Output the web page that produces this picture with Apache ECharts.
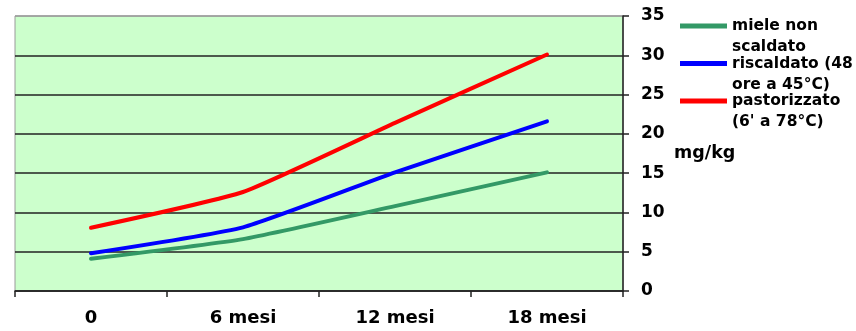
<!DOCTYPE html>
<html>
<head>
<meta charset="utf-8">
<script src="https://cdn.jsdelivr.net/npm/echarts@6/dist/echarts.min.js"></script>
<style>
  html, body { margin: 0; padding: 0; background: #fff; }
  #chart { width: 856px; height: 331px; }
</style>
</head>
<body>
<div id="chart"></div>
<script>
// Storage time categories
const categories = ['0', '6 mesi', '12 mesi', '18 mesi'];

// Series names (legend labels)
const seriesNames = [
  'miele non\nscaldato',
  'riscaldato (48\nore a 45°C)',
  'pastorizzato\n(6\' a 78°C)'
];

// Values in mg/kg
const nonScaldato = [4.1, 6.6, 10.8, 15.1];
const riscaldato = [4.8, 8.1, 15.1, 21.6];
const pastorizzato = [8.05, 12.6, 21.4, 30.1];

const seriesColors = ['#339966', '#0000FF', '#FF0000'];
const seriesValues = [nonScaldato, riscaldato, pastorizzato];

const font = '"DejaVu Sans", "Liberation Sans", Arial, sans-serif';

const chart = echarts.init(document.getElementById('chart'), null, { renderer: 'canvas' });

chart.setOption({
  animation: false,
  backgroundColor: '#ffffff',
  grid: {
    left: 15, top: 16, right: 233, bottom: 40,
    show: true,
    backgroundColor: '#CCFFCC',
    borderColor: '#9a9a9a',
    borderWidth: 1
  },
  legend: {
    orient: 'vertical',
    left: 675,
    top: -10.5,
    itemWidth: 47,
    itemHeight: 5,
    itemGap: -25.5,
    icon: 'rect',
    // leading blank line keeps the swatch level with the first text line
    formatter: name => '\n' + name,
    textStyle: {
      fontFamily: font,
      fontWeight: 'bold',
      fontSize: 15.5,
      lineHeight: 21,
      color: '#000'
    },
    data: seriesNames
  },
  xAxis: {
    type: 'category',
    data: categories,
    boundaryGap: true,
    axisLine: { show: true, lineStyle: { color: '#222', width: 1.5 } },
    axisTick: { show: true, length: 6, lineStyle: { color: '#222', width: 1.5 } },
    axisLabel: {
      margin: 18,
      fontFamily: font,
      fontWeight: 'bold',
      fontSize: 18,
      color: '#000'
    },
    splitLine: { show: false }
  },
  yAxis: {
    type: 'value',
    position: 'right',
    min: 0,
    max: 35,
    interval: 5,
    name: 'mg/kg',
    nameLocation: 'middle',
    nameRotate: 0,
    nameGap: 51,
    nameTextStyle: {
      fontFamily: font,
      fontWeight: 'bold',
      fontSize: 17.5,
      color: '#000',
      align: 'left'
    },
    axisLine: { show: true, lineStyle: { color: '#222', width: 1.5 } },
    axisTick: { show: true, length: 6, lineStyle: { color: '#222', width: 1.5 } },
    axisLabel: {
      margin: 18,
      fontFamily: font,
      fontWeight: 'bold',
      fontSize: 17,
      color: '#000'
    },
    splitLine: {
      show: true,
      lineStyle: {
        color: ['#222', '#222', '#222', '#222', '#222', '#222', '#222', '#9a9a9a'],
        width: 1.5
      }
    }
  },
  series: seriesNames.map((name, i) => ({
    name: name,
    type: 'line',
    data: seriesValues[i],
    showSymbol: false,
    symbol: 'none',
    smooth: 0.15,
    color: seriesColors[i],
    lineStyle: { color: seriesColors[i], width: 4, cap: 'round', join: 'round' },
    z: 3 + i
  }))
});
</script>
</body>
</html>
